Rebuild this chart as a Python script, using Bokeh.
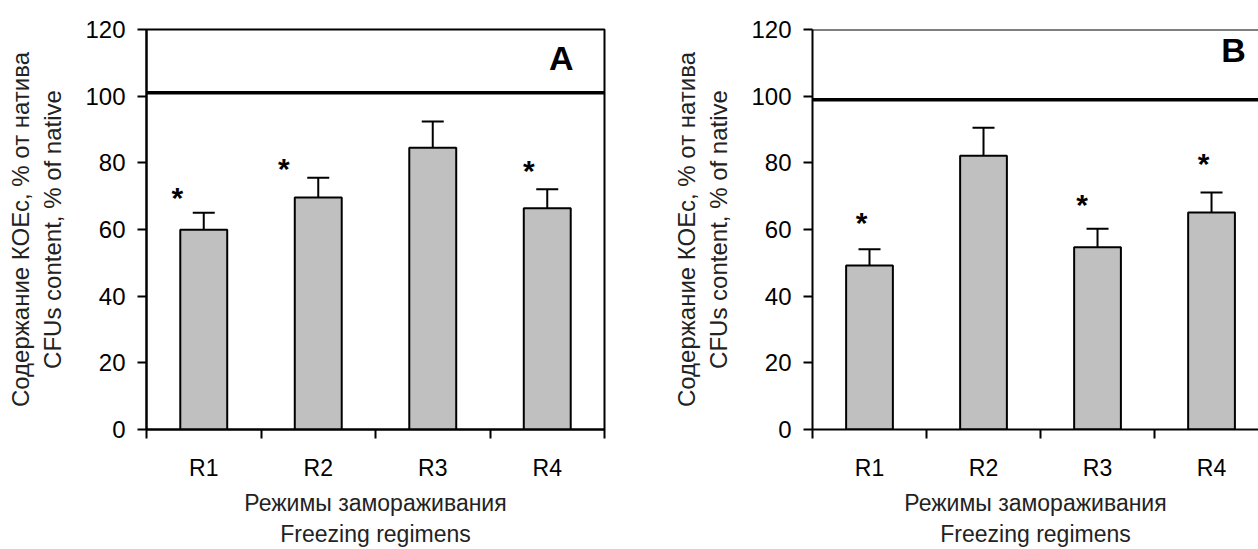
from bokeh.plotting import figure
from bokeh.models import Range1d, FixedTicker, Span, Label, Whisker, ColumnDataSource, TeeHead
from bokeh.layouts import row
from bokeh.embed import file_html
from bokeh.resources import INLINE
from bokeh.core.properties import value

categories = ["R1", "R2", "R3", "R4"]
y_ticks = [0, 20, 40, 60, 80, 100, 120]

a_values = [59.9, 69.6, 84.5, 66.4]
a_lower = [54.6, 63.0, 76.7, 60.4]
a_upper = [65.0, 75.5, 92.4, 72.1]
a_star_x = [0.27, 1.20, 3.34]
a_star_y = [70.4, 79.3, 78.5]
a_native = 101.0

b_values = [49.2, 82.1, 54.7, 65.1]
b_lower = [44.3, 74.2, 49.2, 58.2]
b_upper = [54.1, 90.5, 60.2, 71.1]
b_star_x = [0.43, 2.365, 3.43]
b_star_y = [63.0, 68.3, 80.7]
b_native = 98.9

FONT = "Liberation Sans"
YTITLE = "Содержание КОЕс, % от натива\nCFUs content, % of native"
XTITLE = "Режимы замораживания\nFreezing regimens"


def make_panel(vals, lo, hi, sx, sy, native, letter, letter_x, letter_y,
               width, mbl, mbr, xend, boxed):
    p = figure(width=width, height=549, output_backend="svg", toolbar_location=None,
               x_range=Range1d(0, xend), y_range=Range1d(0, 120),
               min_border_left=mbl, min_border_right=mbr,
               min_border_top=29, min_border_bottom=119)
    p.grid.visible = False
    p.background_fill_color = "white"
    p.border_fill_color = "white"
    if boxed:
        p.outline_line_color = "black"
        p.outline_line_width = 2
        p.outline_line_alpha = 1
    else:
        p.outline_line_color = None
        p.add_layout(Span(location=120, dimension="width", line_color="black", line_width=2))

    xs = [i + 0.5 for i in range(len(categories))]
    p.vbar(x=xs, top=vals, width=0.41, bottom=0, fill_color="#c0c0c0",
           line_color="black", line_width=2)
    src = ColumnDataSource(dict(x=xs, upper=hi, lower=lo))
    p.add_layout(Whisker(base="x", upper="upper", lower="lower", source=src,
                         line_color="black", line_width=2,
                         upper_head=TeeHead(size=22, line_width=2, line_color="black"),
                         lower_head=TeeHead(size=22, line_width=2, line_color="black")))
    p.add_layout(Span(location=native, dimension="width", line_color="black", line_width=3.5))
    p.text(x=sx, y=sy, text=["*"] * len(sx), text_font=value(FONT), text_font_size="30px",
           text_font_style="bold", text_align="center", text_baseline="alphabetic",
           y_offset=3, text_color="black")
    p.add_layout(Label(x=letter_x, y=letter_y, text=letter, text_font=FONT,
                       text_font_size="34px", text_font_style="bold", text_align="right",
                       text_baseline="middle", text_color="black"))

    xa = p.xaxis[0]
    xa.ticker = FixedTicker(ticks=xs, minor_ticks=[0, 1, 2, 3, 4])
    xa.major_label_overrides = {x: c for x, c in zip(xs, categories)}
    xa.major_tick_line_color = None
    xa.major_tick_in = 0
    xa.major_tick_out = 0
    xa.minor_tick_in = 0
    xa.minor_tick_out = 9
    xa.minor_tick_line_width = 2
    xa.minor_tick_line_color = "black"
    xa.major_label_standoff = 16
    xa.axis_label = XTITLE
    xa.axis_label_standoff = 6
    xa.major_label_text_font_size = "23px"
    xa.axis_label_text_font_size = "23px"

    ya = p.yaxis[0]
    ya.ticker = FixedTicker(ticks=y_ticks)
    ya.minor_tick_line_color = None
    ya.major_tick_in = 0
    ya.major_tick_out = 9
    ya.major_tick_line_width = 2
    ya.major_label_standoff = 12
    ya.axis_label = YTITLE
    ya.axis_label_standoff = 16
    ya.major_label_text_font_size = "24px"
    ya.axis_label_text_font_size = "24px"

    for ax in (xa, ya):
        ax.axis_line_color = "black"
        ax.axis_line_width = 2
        ax.major_label_text_font = FONT
        ax.major_label_text_color = "black"
        ax.axis_label_text_font = FONT
        ax.axis_label_text_font_style = "normal"
        ax.axis_label_text_color = "#222222"
    return p


pa = make_panel(a_values, a_lower, a_upper, a_star_x, a_star_y, a_native, "A", 3.73, 111.5,
                630, 146, 26, 4.0, True)
pb = make_panel(b_values, b_lower, b_upper, b_star_x, b_star_y, b_native, "B", 3.8, 113.8,
                628, 182, 0, 3.912, False)

layout = row(pa, pb)
open("out.html", "w").write(file_html(layout, INLINE))
